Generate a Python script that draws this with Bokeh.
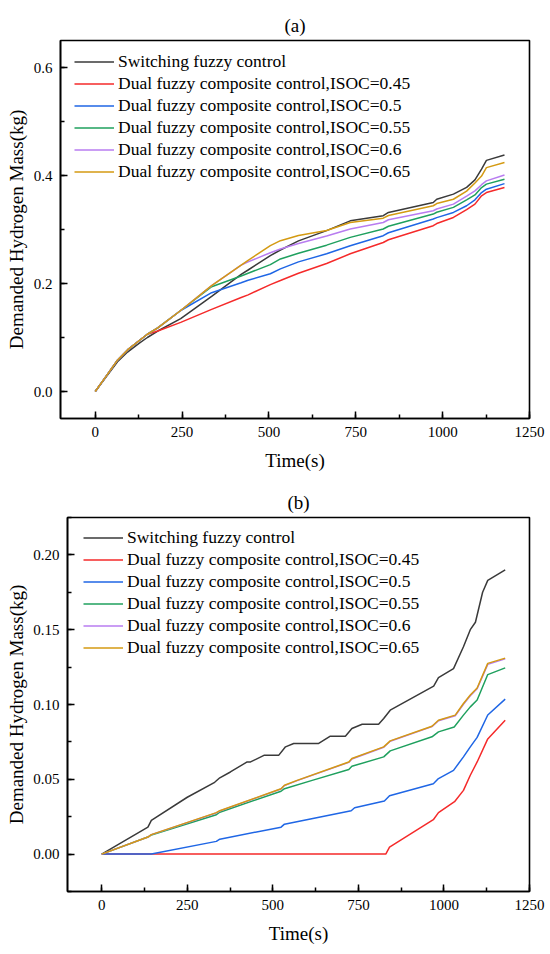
from bokeh.plotting import figure
from bokeh.models import SingleIntervalTicker, PrintfTickFormatter
from bokeh.embed import file_html
from bokeh.resources import INLINE

# ---------------- data: panel (a) ----------------
time_a = [0, 30, 64, 93, 126, 150, 180, 246, 335, 420, 440, 504, 533, 585, 666,
          734, 829, 844, 973, 983, 1031, 1069, 1093, 1112, 1126, 1178]
a_switch = [0, 0.026, 0.055, 0.073, 0.089, 0.100, 0.112, 0.135, 0.176, 0.217, 0.225,
            0.2516, 0.262, 0.279, 0.298, 0.316, 0.3255, 0.3316, 0.350, 0.356, 0.3655,
            0.378, 0.392, 0.412, 0.428, 0.438]
a_045 = [0, 0.027, 0.058, 0.077, 0.094, 0.106, 0.112, 0.128, 0.152, 0.174, 0.179,
         0.198, 0.2055, 0.219, 0.237, 0.255, 0.276, 0.281, 0.307, 0.311, 0.3223,
         0.337, 0.347, 0.3624, 0.3685, 0.3777]
a_050 = [0, 0.027, 0.058, 0.077, 0.094, 0.106, 0.118, 0.150, 0.183, 0.2015, 0.206,
         0.218, 0.227, 0.240, 0.255, 0.270, 0.2885, 0.294, 0.3194, 0.322, 0.3316,
         0.344, 0.355, 0.3685, 0.3747, 0.385]
a_055 = [0, 0.027, 0.058, 0.077, 0.094, 0.106, 0.118, 0.150, 0.194, 0.214, 0.219,
         0.235, 0.2455, 0.256, 0.271, 0.2854, 0.301, 0.306, 0.3286, 0.332, 0.341,
         0.355, 0.364, 0.3777, 0.384, 0.393]
a_060 = [0, 0.027, 0.058, 0.077, 0.094, 0.106, 0.118, 0.150, 0.196, 0.234, 0.240,
         0.257, 0.264, 0.274, 0.288, 0.301, 0.313, 0.318, 0.3347, 0.338, 0.347,
         0.362, 0.3716, 0.383, 0.390, 0.401]
a_065 = [0, 0.027, 0.058, 0.077, 0.094, 0.106, 0.118, 0.150, 0.196, 0.234, 0.243,
         0.270, 0.2793, 0.289, 0.298, 0.313, 0.321, 0.326, 0.344, 0.348, 0.356,
         0.371, 0.386, 0.399, 0.4146, 0.424]

# ---------------- data: panel (b) ----------------
tb_switch = [0, 135, 145, 250, 330, 345, 376, 425, 435, 474, 517, 537, 561, 634, 668,
             712, 731, 761, 809, 824, 843, 970, 984, 1028, 1057, 1077, 1092, 1113, 1128, 1179]
b_switch = [0, 0.018, 0.0225, 0.038, 0.048, 0.051, 0.0549, 0.0616, 0.0616, 0.066, 0.066,
            0.0717, 0.0739, 0.074, 0.0788, 0.0788, 0.084, 0.0868, 0.0868, 0.0906, 0.0962,
            0.1123, 0.118, 0.124, 0.1386, 0.150, 0.155, 0.175, 0.183, 0.190]
tb_045 = [0, 830, 841, 969, 984, 1031, 1057, 1077, 1097, 1128, 1179]
b_045 = [0, 0, 0.0047, 0.023, 0.0277, 0.035, 0.0426, 0.0527, 0.0616, 0.077, 0.0895]
tb_050 = [0, 145, 335, 345, 524, 534, 729, 739, 826, 841, 969, 984, 1028, 1057, 1077,
          1097, 1128, 1179]
b_050 = [0, 0, 0.0085, 0.010, 0.018, 0.020, 0.029, 0.031, 0.0355, 0.039, 0.047, 0.0505,
         0.056, 0.065, 0.0717, 0.078, 0.093, 0.1036]
tb_055 = [0, 135, 145, 335, 345, 524, 534, 615, 722, 731, 824, 843, 965, 984, 1030,
          1057, 1077, 1097, 1128, 1179]
b_055 = [0, 0.0114, 0.0128, 0.0263, 0.028, 0.042, 0.0437, 0.0493, 0.0565, 0.0587, 0.065,
         0.069, 0.0784, 0.0817, 0.085, 0.0929, 0.0984, 0.103, 0.120, 0.1245]
tb_060 = [0, 135, 145, 335, 345, 524, 534, 571, 722, 731, 824, 843, 965, 984, 1033,
          1057, 1077, 1097, 1128, 1179]
b_060 = [0, 0.0114, 0.013, 0.0275, 0.0288, 0.0435, 0.0458, 0.0491, 0.0613, 0.0636, 0.0714,
         0.0754, 0.0852, 0.0891, 0.0925, 0.1002, 0.1058, 0.1105, 0.1268, 0.1305]
tb_065 = [0, 135, 145, 335, 345, 524, 534, 571, 722, 731, 824, 843, 965, 984, 1033,
          1057, 1077, 1097, 1128, 1179]
b_065 = [0, 0.0114, 0.013, 0.0277, 0.029, 0.0437, 0.046, 0.0493, 0.0616, 0.0639, 0.0717,
         0.0757, 0.0855, 0.0895, 0.0929, 0.1007, 0.1063, 0.111, 0.1275, 0.131]

labels = ["Switching fuzzy control",
          "Dual fuzzy composite control,ISOC=0.45",
          "Dual fuzzy composite control,ISOC=0.5",
          "Dual fuzzy composite control,ISOC=0.55",
          "Dual fuzzy composite control,ISOC=0.6",
          "Dual fuzzy composite control,ISOC=0.65"]
colors = ["#3a3a3a", "#f52a2a", "#1f66e5", "#1fa05e", "#b87cf0", "#d49a12"]

x_tick_interval = 250
FONT = "Liberation Serif, Times New Roman, serif"


def make_fig(title, yr, yint, yfmt, b_left, b_top, frame_h, height,
             label_standoff, legend_loc, series):
    p = figure(width=548, height=height, x_range=(-100, 1250), y_range=yr,
               output_backend="svg", toolbar_location=None,
               min_border_left=b_left, min_border_right=19,
               min_border_top=b_top, min_border_bottom=height - b_top - frame_h)
    p.title.text = title
    p.title.align = "center"
    p.title.text_font = FONT
    p.title.text_font_size = "19px"
    p.title.text_font_style = "normal"
    p.title.text_color = "black"
    p.grid.visible = False
    p.outline_line_color = "black"
    p.outline_line_width = 1.6
    p.outline_line_alpha = 1.0
    p.xaxis.ticker = SingleIntervalTicker(interval=x_tick_interval, num_minor_ticks=2)
    p.yaxis.ticker = SingleIntervalTicker(interval=yint, num_minor_ticks=2)
    p.yaxis.formatter = PrintfTickFormatter(format=yfmt)
    p.xaxis.axis_label = "Time(s)"
    p.yaxis.axis_label = "Demanded Hydrogen Mass(kg)"
    for ax in (p.xaxis, p.yaxis):
        ax.axis_line_color = "black"
        ax.axis_line_width = 1.6
        ax.major_tick_in = 7
        ax.major_tick_out = 0
        ax.minor_tick_in = 4
        ax.minor_tick_out = 0
        ax.major_tick_line_color = "black"
        ax.minor_tick_line_color = "black"
        ax.major_tick_line_width = 1.5
        ax.minor_tick_line_width = 1.5
        ax.major_label_text_font = FONT
        ax.major_label_text_font_size = "15px"
        ax.major_label_text_color = "black"
        ax.major_label_standoff = 8
        ax.axis_label_text_font = FONT
        ax.axis_label_text_font_size = "19px"
        ax.axis_label_text_font_style = "normal"
        ax.axis_label_text_color = "black"
    p.xaxis.axis_label_standoff = 10
    p.yaxis.axis_label_standoff = label_standoff
    for (t, v), lab, col in zip(series, labels, colors):
        p.line(t, v, line_color=col, line_width=1.5, legend_label=lab)
    lg = p.legend[0]
    lg.location = legend_loc
    lg.border_line_alpha = 0
    lg.background_fill_alpha = 0
    lg.margin = 0
    lg.padding = 0
    lg.spacing = 1
    lg.glyph_width = 40
    lg.glyph_height = 21
    lg.label_height = 21
    lg.label_standoff = 4
    lg.label_text_font = FONT
    lg.label_text_font_size = "17.5px"
    lg.label_text_color = "black"
    return p


p1 = make_fig("(a)", (-0.05, 0.65), 0.2, "%.1f", 60, 40, 378, 478, 4, (14, 236),
              [(time_a, a_switch), (time_a, a_045), (time_a, a_050),
               (time_a, a_055), (time_a, a_060), (time_a, a_065)])
p2 = make_fig("(b)", (-0.025, 0.225), 0.05, "%.2f", 67, 39, 374, 472, 3, (16, 233),
              [(tb_switch, b_switch), (tb_045, b_045), (tb_050, b_050),
               (tb_055, b_055), (tb_060, b_060), (tb_065, b_065)])

open("out.html", "w").write(file_html([p1, p2], INLINE))
